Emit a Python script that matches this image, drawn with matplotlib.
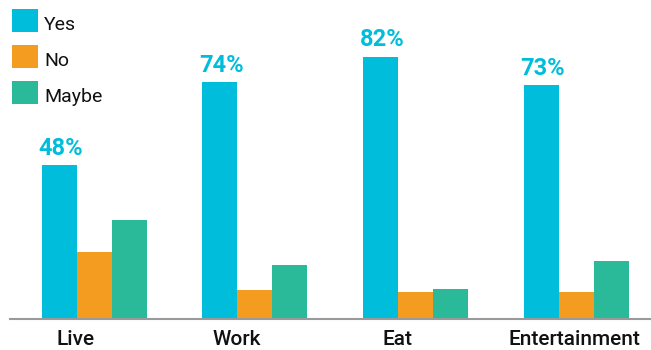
"""Yes / No / Maybe grouped bar chart."""

import matplotlib

matplotlib.use("Agg")

import matplotlib.pyplot as plt
import numpy as np
from matplotlib.patches import Rectangle

categories = ["Live", "Work", "Eat", "Entertainment"]
series_names = ["Yes", "No", "Maybe"]
yes_values = [48, 74, 82, 73]
no_values = [21, 9, 8.5, 8.5]
maybe_values = [31, 17, 9.5, 18]
yes_labels = ["48%", "74%", "82%", "73%"]

colors = ["#00bedb", "#f39c1f", "#2ab999"]

plt.rcParams["font.family"] = ["Roboto", "DejaVu Sans"]

W, H = 651, 350
fig = plt.figure(figsize=(W / 100, H / 100), dpi=100)
ax = fig.add_axes([10 / W, 31 / H, 641 / W, 319 / H])

x = np.arange(len(categories))
width = 0.218
all_values = [yes_values, no_values, maybe_values]
for i, (name, vals) in enumerate(zip(series_names, all_values)):
    ax.bar(x + (i - 1) * width, vals, width, color=colors[i], label=name, linewidth=0)

for xi, v, lab in zip(x, yes_values, yes_labels):
    ax.annotate(lab, xy=(xi - width, v), xytext=(1, 7.5), textcoords="offset points",
                ha="center", va="baseline", color=colors[0], fontsize=17, fontweight="bold")

ax.set_xlim(-0.526, 3.467)
ax.set_ylim(0, 99.7)
# category labels sit a bit left of the group centre except the last one
ax.set_xticks(x + np.array([-0.115, -0.115, -0.115, -0.01]))
ax.set_xticklabels(categories, fontsize=15, fontweight="medium", color="#111111")
ax.tick_params(axis="x", length=0, pad=8)
ax.set_yticks([])
for side in ["top", "right", "left"]:
    ax.spines[side].set_visible(False)
ax.spines["bottom"].set_color("#9a9a9a")
ax.spines["bottom"].set_linewidth(1.5)

# legend drawn by hand in pixel positions
for i, name in enumerate(series_names):
    top = 9 + 36 * i
    fig.add_artist(Rectangle((12 / W, 1 - (top + 23) / H), 26 / W, 23 / H,
                             transform=fig.transFigure, color=colors[i], linewidth=0))
    fig.text(44 / W, 1 - (top + 21) / H, name, fontsize=14, color="#111111",
             ha="left", va="baseline")

fig.savefig("out.png", dpi=100)
plt.close(fig)
